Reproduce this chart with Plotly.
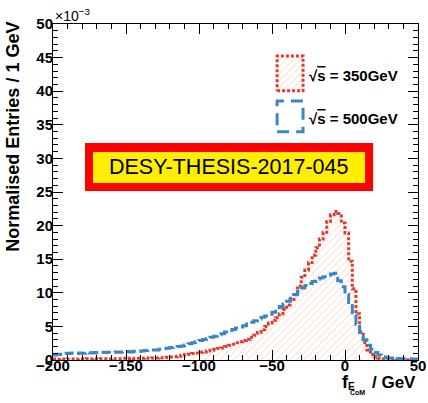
import plotly.graph_objects as go

# bin left edges: -200 .. 47.5 (2.5 GeV bins), values in units of 1e-3 per 1 GeV
bin_width = 2.5
x_min = -200.0
n_bins = 100

red_350 = [0.15, 0.10, 0.15, 0.10, 0.15, 0.15, 0.10, 0.15, 0.15, 0.20,
           0.15, 0.20, 0.15, 0.20, 0.20, 0.15, 0.20, 0.20, 0.20, 0.25,
           0.20, 0.25, 0.20, 0.25, 0.25, 0.30, 0.25, 0.30, 0.30, 0.35,
           0.35, 0.40, 0.45, 0.50, 0.55, 0.70, 0.80, 0.85, 0.95, 1.05,
           1.15, 1.20, 1.35, 1.45, 1.55, 1.70, 1.80, 2.00, 2.20, 2.35,
           2.55, 2.70, 2.90, 3.10, 3.40, 3.70, 4.10, 4.50, 5.00, 5.50,
           5.90, 6.30, 6.90, 7.50, 8.20, 9.00, 10.0, 11.0, 12.3, 13.4,
           14.5, 15.6, 16.7, 18.0, 19.0, 20.6, 21.6, 22.1, 21.8, 20.4,
           18.9, 14.7, 10.6, 6.9, 4.2, 2.6, 1.5, 0.8, 0.45, 0.25,
           0.15, 0.10, 0.10, 0.05, 0.05, 0.05, 0.05, 0.02, 0.02, 0.02]

blue_500 = [0.75, 0.85, 0.80, 1.00, 0.95, 1.05, 0.95, 1.05, 1.00, 1.10,
            1.05, 1.10, 1.05, 1.15, 1.10, 1.15, 1.10, 1.20, 1.15, 1.20,
            1.25, 1.20, 1.30, 1.25, 1.35, 1.40, 1.45, 1.50, 1.50, 1.60,
            1.70, 1.75, 1.85, 1.90, 2.00, 2.10, 2.25, 2.40, 2.55, 2.70,
            2.90, 3.05, 3.20, 3.40, 3.55, 3.75, 3.90, 4.15, 4.40, 4.55,
            4.75, 4.90, 5.10, 5.35, 5.60, 5.85, 6.10, 6.35, 6.55, 6.80,
            7.10, 7.50, 7.95, 8.35, 8.75, 9.20, 9.70, 10.2, 10.7, 11.1,
            11.4, 11.7, 12.0, 12.2, 12.4, 12.6, 12.8, 12.9, 11.8, 10.9,
            9.8, 8.1, 6.7, 5.3, 4.1, 3.0, 2.2, 1.6, 1.1, 0.75,
            0.50, 0.35, 0.28, 0.25, 0.22, 0.20, 0.18, 0.18, 0.15, 0.15]

x_ticks = [-200, -150, -100, -50, 0, 50]
y_ticks = [0, 5, 10, 15, 20, 25, 30, 35, 40, 45, 50]
labels = ["√<span style='text-decoration:overline'>s</span> = 350GeV",
          "√<span style='text-decoration:overline'>s</span> = 500GeV"]
watermark = "DESY-THESIS-2017-045"

RED = "#e2382e"
BLUE = "#3a86c8"
HATCH = "#f5b99c"

edges = [x_min + i * bin_width for i in range(n_bins + 1)]


def steps(vals):
    return edges, list(vals) + [vals[-1]]


fig = go.Figure()

rx, ry = steps(red_350)
fig.add_trace(go.Scatter(
    x=rx, y=ry, mode="lines", line=dict(shape="hv", color=RED, width=3, dash="3px,2px"),
    fill="tozeroy", fillcolor="rgba(255,255,255,0)",
    fillpattern=dict(shape="/", fgcolor=HATCH, bgcolor="rgba(255,255,255,0)", size=5, solidity=0.2),
    showlegend=False, hoverinfo="skip"))

bx, by = steps(blue_500)
fig.add_trace(go.Scatter(
    x=bx, y=by, mode="lines", line=dict(shape="hv", color=BLUE, width=3, dash="10px,4px"),
    showlegend=False, hoverinfo="skip"))

# legend boxes on an overlay axis in 0..1 units
box_r = dict(x0=0.614, x1=0.685, y0=0.801, y1=0.905)
box_b = dict(x0=0.614, x1=0.685, y0=0.679, y1=0.771)
fig.add_trace(go.Scatter(
    x=[box_r["x0"], box_r["x1"], box_r["x1"], box_r["x0"], box_r["x0"]],
    y=[box_r["y0"], box_r["y0"], box_r["y1"], box_r["y1"], box_r["y0"]],
    xaxis="x2", yaxis="y2", mode="lines", fill="toself",
    fillcolor="rgba(255,255,255,0)",
    fillpattern=dict(shape="/", fgcolor=HATCH, bgcolor="rgba(255,255,255,0)", size=5, solidity=0.2),
    line=dict(color=RED, width=3, dash="3px,2px"), showlegend=False, hoverinfo="skip"))
fig.add_trace(go.Scatter(
    x=[box_b["x0"], box_b["x1"], box_b["x1"], box_b["x0"], box_b["x0"]],
    y=[box_b["y0"], box_b["y0"], box_b["y1"], box_b["y1"], box_b["y0"]],
    xaxis="x2", yaxis="y2", mode="lines",
    line=dict(color=BLUE, width=3, dash="12px,7px"), showlegend=False, hoverinfo="skip"))

tickfont = dict(family="Liberation Sans", size=15, color="black", weight="bold")

fig.update_layout(
    width=428, height=403,
    margin=dict(l=53, r=10, t=24, b=43),
    paper_bgcolor="white", plot_bgcolor="white",
    xaxis=dict(range=[-200, 50], tickvals=x_ticks, ticks="inside", ticklen=10, tickcolor="black",
               minor=dict(dtick=10, ticklen=5, ticks="inside", tickcolor="black"),
               showline=True, linecolor="black", linewidth=1, mirror="allticks",
               showgrid=False, zeroline=False, tickfont=tickfont, automargin=False,
               ticklabelstandoff=-8),
    yaxis=dict(range=[0, 50], tickvals=y_ticks, ticks="inside", ticklen=10, tickcolor="black",
               minor=dict(dtick=1, ticklen=5, ticks="inside", tickcolor="black"),
               showline=True, linecolor="black", linewidth=1, mirror="allticks",
               showgrid=False, zeroline=False, tickfont=tickfont, automargin=False,
               ticklabelstandoff=-4),
    xaxis2=dict(overlaying="x", range=[0, 1], visible=False, fixedrange=True),
    yaxis2=dict(overlaying="y", range=[0, 1], visible=False, fixedrange=True),
)

# watermark box
fig.add_shape(type="rect", xref="paper", yref="paper", x0=0.0877, x1=0.877, y0=0.503, y1=0.646,
              fillcolor="#ff0000", line=dict(width=0), layer="above")
fig.add_shape(type="rect", xref="paper", yref="paper", x0=0.1096, x1=0.855, y0=0.527, y1=0.619,
              fillcolor="#ffee00", line=dict(width=0), layer="above")

ann = []
ann.append(dict(text=watermark, x=0.482, y=0.573, xref="paper", yref="paper", showarrow=False,
                font=dict(family="Liberation Sans", size=21.5, color="black"), xanchor="center", yanchor="middle"))
ann.append(dict(text="<b>" + labels[0] + "</b>", x=0.695, y=0.848, xref="paper", yref="paper",
                showarrow=False, xanchor="left", yanchor="middle",
                font=dict(family="Liberation Sans", size=15, color="black")))
ann.append(dict(text="<b>" + labels[1] + "</b>", x=0.695, y=0.72, xref="paper", yref="paper",
                showarrow=False, xanchor="left", yanchor="middle",
                font=dict(family="Liberation Sans", size=15, color="black")))
ann.append(dict(text="×10<sup>−3</sup>", x=0.0, y=1.0, xref="paper", yref="paper", showarrow=False,
                xanchor="left", yanchor="bottom", yshift=-2,
                font=dict(family="Liberation Sans", size=14, color="black")))
ann.append(dict(text="<b>Normalised Entries / 1 GeV</b>", x=-0.112, y=0.665, xref="paper", yref="paper",
                showarrow=False, textangle=-90, xanchor="center", yanchor="middle",
                font=dict(family="Liberation Sans", size=18, color="black")))
# x title: f_{E_CoM} / GeV
ann.append(dict(text="<b>/ GeV</b>", x=1.0, y=-0.066, xref="paper", yref="paper", showarrow=False,
                xanchor="right", yanchor="middle",
                font=dict(family="Liberation Sans", size=17, color="black")))
ann.append(dict(text="<b>f</b>", x=0.8, y=-0.066, xref="paper", yref="paper", showarrow=False,
                xanchor="center", yanchor="middle",
                font=dict(family="Liberation Sans", size=18, color="black")))
ann.append(dict(text="<b>E</b>", x=0.8165, y=-0.078, xref="paper", yref="paper", showarrow=False,
                xanchor="center", yanchor="middle",
                font=dict(family="Liberation Sans", size=10, color="black")))
ann.append(dict(text="<b>CoM</b>", x=0.8355, y=-0.096, xref="paper", yref="paper", showarrow=False,
                xanchor="center", yanchor="middle",
                font=dict(family="Liberation Sans", size=7, color="black")))
fig.update_layout(annotations=ann)

fig.write_html("out.html")
